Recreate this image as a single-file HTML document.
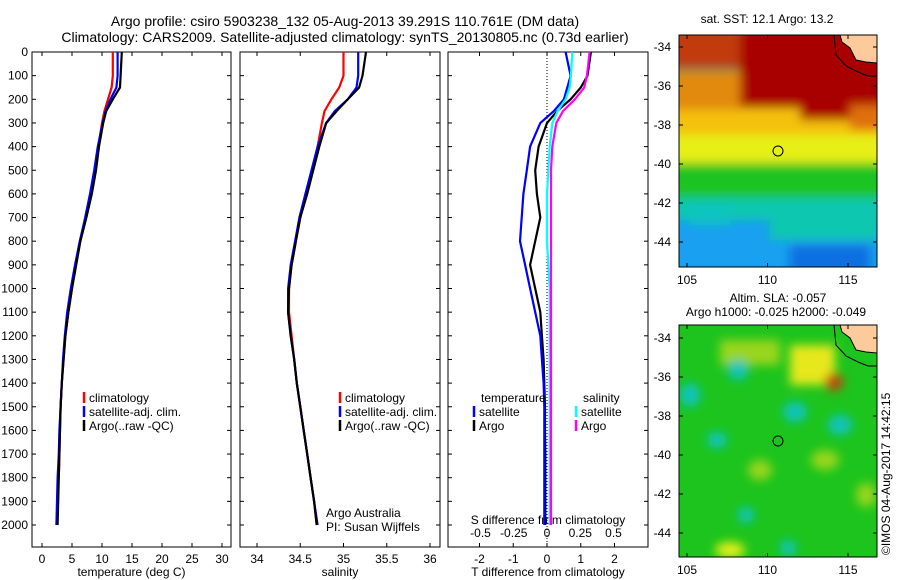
<!DOCTYPE html>
<html><head><meta charset="utf-8"><style>
body{margin:0;background:#fff;}
svg{display:block;font-family:"Liberation Sans",sans-serif;}
text{font-size:12px;fill:#000;}
</style></head><body>
<svg id="s" width="900" height="580" viewBox="0 0 900 580">
<defs>
<filter id="bl" filterUnits="userSpaceOnUse" x="640" y="0" width="260" height="580"><feGaussianBlur stdDeviation="5"/></filter>
<clipPath id="c1"><rect x="679" y="35" width="198" height="232"/></clipPath>
<clipPath id="c2"><rect x="679" y="325" width="198" height="232"/></clipPath>
</defs>
<text x="345" y="26" text-anchor="middle" style="font-size:14px">Argo profile: csiro 5903238_132 05-Aug-2013 39.291S 110.761E (DM data)</text>
<text x="345" y="42" text-anchor="middle" style="font-size:14px">Climatology: CARS2009. Satellite-adjusted climatology: synTS_20130805.nc (0.73d earlier)</text>

<g clip-path="url(#c1)">
<rect x="679" y="35" width="198" height="232" fill="#19a0f0"/>
<g filter="url(#bl)">
<rect x="670" y="190" width="220" height="30" fill="#0cc7b0"/>
<rect x="670" y="158" width="220" height="40" fill="#1cc421"/>
<rect x="670" y="128" width="220" height="35" fill="#e6f016"/>
<rect x="670" y="95" width="220" height="40" fill="#f4c10c"/>
<rect x="670" y="70" width="70" height="40" fill="#e28a10"/>
<rect x="670" y="28" width="70" height="40" fill="#c23a0c"/>
<rect x="740" y="28" width="150" height="80" fill="#a80000"/>
<rect x="800" y="100" width="50" height="20" fill="#a80000"/>
<rect x="850" y="105" width="40" height="25" fill="#e07010"/>
<rect x="770" y="215" width="110" height="25" fill="#0cc7b0"/>
<rect x="790" y="245" width="80" height="30" fill="#1070e0"/>
<rect x="690" y="205" width="40" height="20" fill="#0ec4c0"/>
</g>
<path d="M840 35 L842 42 L850 48 L856 60 L866 62 L877 63 L877 35 Z" fill="#fdcb9b" stroke="#000"/>
<path d="M834 35 L836 55 L846 66 L858 72 L868 76 L877 76" fill="none" stroke="#000"/>
<circle cx="778" cy="151" r="5" fill="none" stroke="#000"/>
</g>
<rect x="679" y="35" width="198" height="232" fill="none" stroke="#000"/>
<text x="767" y="23" text-anchor="middle">sat. SST: 12.1  Argo: 13.2</text>

<g clip-path="url(#c2)">
<rect x="679" y="325" width="198" height="232" fill="#1dc41d"/>
<g filter="url(#bl)">
<rect x="720" y="340" width="60" height="25" fill="#9ad61e"/>
<rect x="790" y="345" width="45" height="40" fill="#e6e81a"/>
<ellipse cx="834" cy="382" rx="9" ry="9" fill="#c0450c"/>
<ellipse cx="738" cy="370" rx="10" ry="10" fill="#0ec4c0"/>
<ellipse cx="690" cy="395" rx="10" ry="12" fill="#0ec4c0"/>
<ellipse cx="795" cy="412" rx="12" ry="10" fill="#0ec4c0"/>
<ellipse cx="840" cy="425" rx="12" ry="10" fill="#0ec4c0"/>
<ellipse cx="717" cy="440" rx="10" ry="8" fill="#0ec4c0"/>
<ellipse cx="760" cy="470" rx="12" ry="10" fill="#9ad61e"/>
<ellipse cx="825" cy="460" rx="14" ry="10" fill="#9ad61e"/>
<ellipse cx="746" cy="515" rx="8" ry="8" fill="#0ec4c0"/>
<ellipse cx="788" cy="548" rx="8" ry="8" fill="#0ec4c0"/>
<ellipse cx="730" cy="550" rx="15" ry="8" fill="#e6f016"/>
<ellipse cx="866" cy="495" rx="10" ry="12" fill="#9ad61e"/>
</g>
<path d="M840 325 L842 332 L850 338 L856 350 L866 352 L877 353 L877 325 Z" fill="#fdcb9b" stroke="#000"/>
<path d="M834 325 L836 345 L846 356 L858 362 L868 366 L877 366" fill="none" stroke="#000"/>
<circle cx="778" cy="441" r="5" fill="none" stroke="#000"/>
</g>
<rect x="679" y="325" width="198" height="232" fill="none" stroke="#000"/>
<text x="778" y="302" text-anchor="middle">Altim. SLA: -0.057</text>
<text x="776" y="316" text-anchor="middle">Argo h1000: -0.025 h2000: -0.049</text>
<text transform="translate(890,555) rotate(-90)">©IMOS 04-Aug-2017 14:42:15</text>
<g id="g"></g>
</svg>
<script>
// depth grid (m)
const depths=[0,100,150,200,250,300,400,500,600,700,800,900,1000,1100,1200,1300,1400,1500,1600,1700,1800,1900,2000];
// temperature (deg C)
const tClim=[11.8,11.8,11.6,11.0,10.4,10.0,9.4,8.9,8.2,7.3,6.3,5.6,5.0,4.4,3.9,3.6,3.3,3.1,3.0,2.9,2.8,null,null];
const tSat=[12.6,12.6,12.4,11.4,10.6,10.1,9.3,8.7,8.0,7.2,6.3,5.5,4.8,4.2,3.8,3.5,3.3,3.1,2.9,2.8,2.6,2.5,2.4];
const tArgo=[13.3,13.1,13.0,11.8,10.7,10.2,9.5,9.0,8.3,7.4,6.4,5.7,5.0,4.4,3.9,3.6,3.3,3.1,3.0,2.9,2.8,2.7,2.6];
// salinity
const sClim=[35.0,35.0,34.95,34.86,34.78,34.75,34.70,34.64,34.57,34.50,34.45,34.40,34.37,34.37,34.40,34.43,34.46,34.50,34.54,34.58,34.62,34.66,34.69];
const sSat=[35.17,35.17,35.15,35.05,34.90,34.80,34.70,34.63,34.56,34.49,34.44,34.39,34.36,34.36,34.39,34.43,34.46,34.50,34.54,34.58,34.62,34.66,34.70];
const sArgo=[35.26,35.22,35.18,35.05,34.92,34.80,34.72,34.65,34.58,34.50,34.45,34.40,34.37,34.36,34.39,34.43,34.46,34.50,34.54,34.58,34.62,34.66,34.69];
// differences from climatology
const dTSat=[0.55,0.7,0.6,0.5,0.2,-0.2,-0.5,-0.6,-0.7,-0.75,-0.8,-0.65,-0.5,-0.35,-0.2,-0.15,-0.1,-0.08,-0.08,-0.08,-0.08,-0.08,-0.08];
const dTArgo=[1.3,1.2,1.0,0.7,0.3,0,-0.25,-0.35,-0.3,-0.2,-0.35,-0.5,-0.35,-0.2,-0.15,-0.1,-0.08,-0.06,-0.06,-0.05,-0.05,-0.05,-0.05];
const dSSat=[0.19,0.18,0.17,0.14,0.08,0.04,0.02,0.01,0.0,0.0,0.0,0.01,0.02,0.02,0.02,0.02,0.02,0.02,0.02,0.02,0.02,0.02,0.02];
const dSArgo=[0.32,0.30,0.28,0.21,0.12,0.07,0.04,0.03,0.03,0.03,0.03,0.03,0.03,0.03,0.03,0.03,0.03,0.03,0.03,0.03,0.03,0.03,0.03];
const depthTicks=[0,100,200,300,400,500,600,700,800,900,1000,1100,1200,1300,1400,1500,1600,1700,1800,1900,2000];
const tTicks=[0,5,10,15,20,25,30], sTicks=[34,34.5,35,35.5,36], dtTicks=[-2,-1,0,1,2], dsTicks=[-0.5,-0.25,0,0.25,0.5];
const latTicks=[-34,-36,-38,-40,-42,-44], lonTicks=[105,110,115];

const NS='http://www.w3.org/2000/svg', G=document.getElementById('g');
function el(t,a,txt){const e=document.createElementNS(NS,t);for(const k in a)e.setAttribute(k,a[k]);if(txt!=null)e.textContent=txt;G.appendChild(e);return e;}
const Y=d=>52+d*0.2365;
const pTop=52,pBot=547;
const panels=[
 {x0:32,x1:231,fx:v=>42+v*6,ticks:tTicks,label:'temperature (deg C)',name:'temperature'},
 {x0:240,x1:440,fx:v=>257+(v-34)*86.5,ticks:sTicks,label:'salinity',name:'salinity'},
 {x0:448,x1:648,fx:v=>547+v*33.75,ticks:dtTicks,label:'T difference from climatology',name:'tdiff'}];
panels.forEach((p,i)=>{
 const r=el('rect',{x:p.x0,y:pTop,width:p.x1-p.x0,height:pBot-pTop,fill:'none',stroke:'#000'});
 
 
 depthTicks.forEach(d=>{el('line',{x1:p.x0,x2:p.x0+4,y1:Y(d),y2:Y(d),stroke:'#000'});el('line',{x1:p.x1-4,x2:p.x1,y1:Y(d),y2:Y(d),stroke:'#000'});});
 p.ticks.forEach(v=>{const x=p.fx(v);el('line',{x1:x,x2:x,y1:pBot,y2:pBot-4,stroke:'#000'});el('line',{x1:x,x2:x,y1:pTop,y2:pTop+4,stroke:'#000'});
  const t=el('text',{x:x,y:pBot+16,'text-anchor':'middle'},String(v));});
 const l=el('text',{x:(p.x0+p.x1)/2,y:pBot+29,'text-anchor':'middle'},p.label);
 
 
});
depthTicks.forEach(d=>{const t=el('text',{x:28,y:Y(d)+4,'text-anchor':'end'},String(d));
 
 });
el('line',{x1:547,x2:547,y1:pTop,y2:pBot,stroke:'#000','stroke-dasharray':'1,2'});
const fS=v=>547+v*133;
dsTicks.forEach(v=>{const t=el('text',{x:fS(v),y:537,'text-anchor':'middle'},String(v));
 
 });
const st=el('text',{x:548,y:524,'text-anchor':'middle'},'S difference from climatology');


function line(vals,fx,col,name){let pts=[];vals.forEach((v,i)=>{if(v!=null)pts.push(fx(v).toFixed(1)+','+Y(depths[i]).toFixed(1));});
 const e=el('polyline',{points:pts.join(' '),fill:'none',stroke:col,'stroke-width':2.2});
 
 }
const P=panels;
line(tClim,P[0].fx,'#f00','temp-climatology-line');line(tSat,P[0].fx,'#00f','temp-satellite-line');line(tArgo,P[0].fx,'#000','temp-argo-line');
line(sClim,P[1].fx,'#f00','sal-climatology-line');line(sSat,P[1].fx,'#00f','sal-satellite-line');line(sArgo,P[1].fx,'#000','sal-argo-line');
line(dTArgo,P[2].fx,'#000','tdiff-argo-line');line(dTSat,P[2].fx,'#00f','tdiff-satellite-line');
line(dSSat,fS,'#0ff','sdiff-satellite-line');line(dSArgo,fS,'#f0f','sdiff-argo-line');
function leg(x,y,col,txt,name){el('line',{x1:x,x2:x,y1:y-10,y2:y+1,stroke:col,'stroke-width':2.5});
 const t=el('text',{x:x+5,y:y},txt);}
[84,340].forEach(x=>{leg(x,402,'#f00','climatology','legend-climatology');leg(x,416,'#00f','satellite-adj. clim.','legend-satellite');leg(x,430,'#000','Argo(..raw -QC)','legend-argo');});
let t1=el('text',{x:481,y:402},'temperature');
let t2=el('text',{x:583,y:402},'salinity');
leg(474,416,'#00f','satellite','legend-tdiff-satellite');leg(474,430,'#000','Argo','legend-tdiff-argo');
leg(576,416,'#0ff','satellite','legend-sdiff-satellite');leg(576,430,'#f0f','Argo','legend-sdiff-argo');
let a1=el('text',{x:326,y:517},'Argo Australia');
let a2=el('text',{x:326,y:531},'PI: Susan Wijffels');
const lonX=v=>687+(v-105)*16.1;
[[35,267,47],[325,557,338]].forEach(([y0,y1,l0])=>{
 latTicks.forEach(v=>{const y=l0+(-34-v)*19.5;el('line',{x1:679,x2:683,y1:y,y2:y,stroke:'#000'});el('line',{x1:873,x2:877,y1:y,y2:y,stroke:'#000'});
  const t=el('text',{x:671,y:y+4,'text-anchor':'end'},String(v));});
 lonTicks.forEach(v=>{const x=lonX(v);el('line',{x1:x,x2:x,y1:y0,y2:y0+4,stroke:'#000'});el('line',{x1:x,x2:x,y1:y1-4,y2:y1,stroke:'#000'});
  const t=el('text',{x:x,y:y1+17,'text-anchor':'middle'},String(v));});
});
</script>
</body></html>
